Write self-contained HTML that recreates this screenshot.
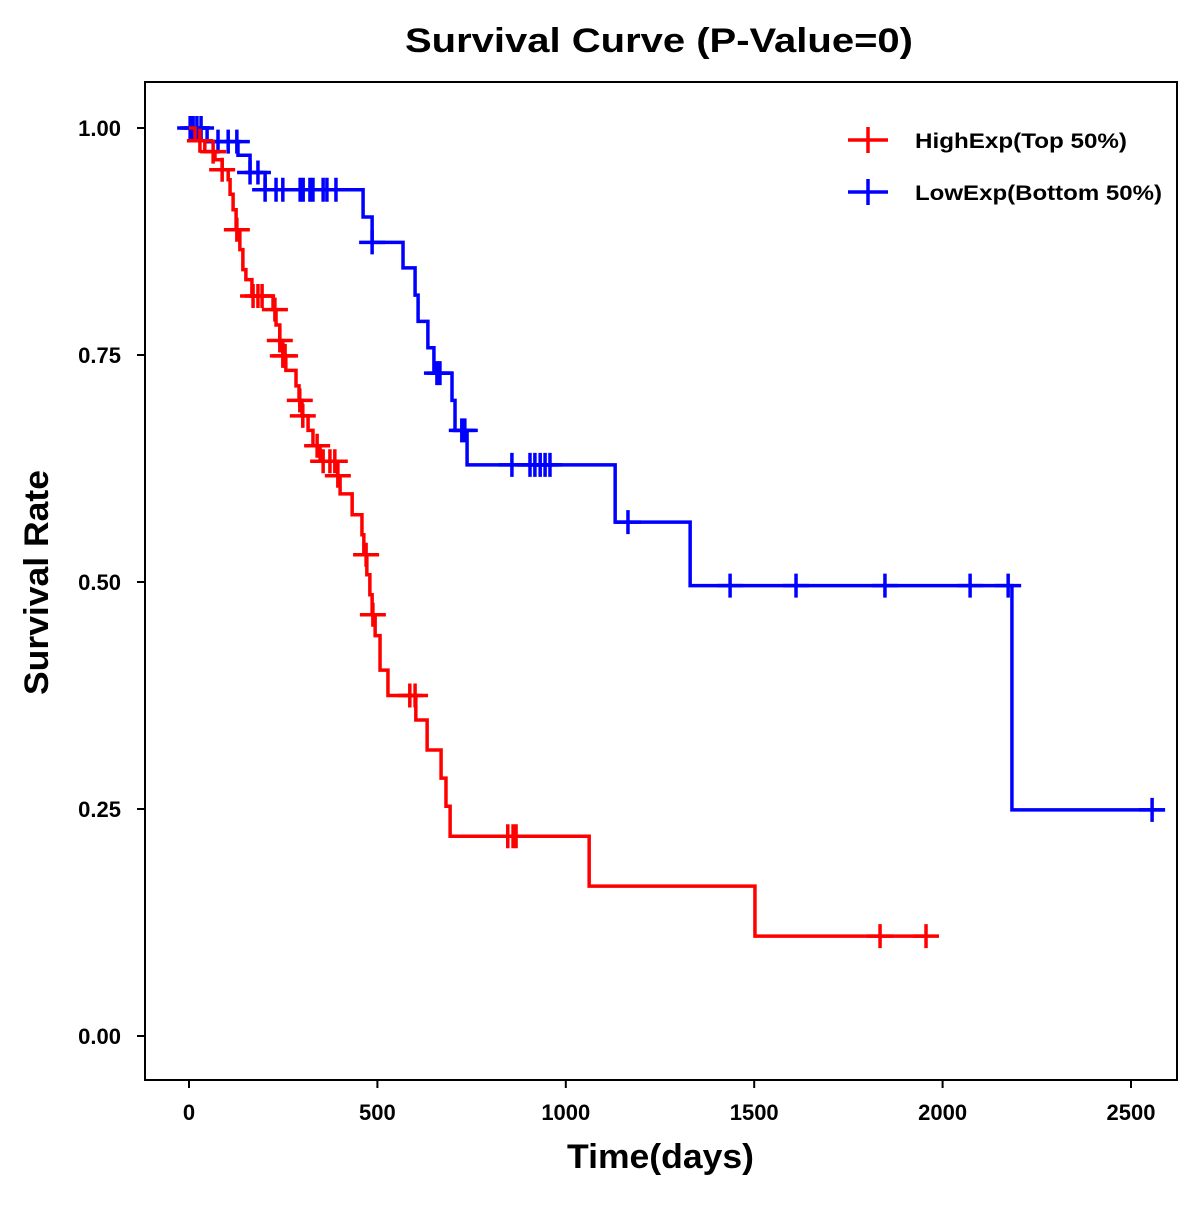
<!DOCTYPE html>
<html><head><meta charset="utf-8"><style>
body{margin:0;background:#fff}
svg{font-family:"Liberation Sans",Arial,sans-serif;font-weight:bold}
</style></head><body>
<svg id="chart" width="1200" height="1200" xmlns="http://www.w3.org/2000/svg">
<rect x="0" y="0" width="1200" height="1200" fill="#fff"/>
<text x="405" y="52" font-size="34" textLength="508" lengthAdjust="spacingAndGlyphs">Survival Curve (P-Value=0)</text>
<rect x="145" y="82" width="1032" height="998" fill="none" stroke="#000" stroke-width="2"/>
<g id="xaxis"></g>
<g id="yaxis"></g>
<text x="567" y="1168" font-size="34" textLength="187" lengthAdjust="spacingAndGlyphs">Time(days)</text>
<text transform="translate(48,695) rotate(-90)" font-size="34" textLength="225" lengthAdjust="spacingAndGlyphs">Survival Rate</text>
<g id="series"></g>
<g>
<g>
<line x1="848" y1="140" x2="888" y2="140" stroke="#f00" stroke-width="3.5"/><line x1="868" y1="127" x2="868" y2="153" stroke="#f00" stroke-width="3.5"/>
<text x="915" y="148" font-size="21" textLength="212" lengthAdjust="spacingAndGlyphs">HighExp(Top 50%)</text></g>
<g>
<line x1="848" y1="192" x2="888" y2="192" stroke="#00f" stroke-width="3.5"/><line x1="868" y1="179" x2="868" y2="205" stroke="#00f" stroke-width="3.5"/>
<text x="915" y="200" font-size="21" textLength="247" lengthAdjust="spacingAndGlyphs">LowExp(Bottom 50%)</text></g>
</g>
</svg>
<script>
const xTicks=[0,500,1000,1500,2000,2500];
const yTicks=[0,0.25,0.5,0.75,1.0];
const yTickLabels=["0.00","0.25","0.50","0.75","1.00"];
const highTimes=[0,16,42,69,88,104,109,117,125,135,143,151,167,223,231,241,249,257,284,292,300,316,329,348,395,401,433,459,464,472,480,486,494,507,528,602,632,669,682,693,1062,1502];
const highSurv=[1.0,0.986,0.974,0.965,0.954,0.943,0.927,0.910,0.888,0.866,0.844,0.833,0.815,0.800,0.783,0.766,0.749,0.733,0.716,0.700,0.683,0.667,0.650,0.633,0.617,0.597,0.574,0.552,0.530,0.508,0.486,0.464,0.441,0.403,0.375,0.348,0.315,0.284,0.253,0.220,0.165,0.110];
const highEnd=1956;
const highCensor=[29,64,88,127,170,183,194,228,241,249,255,294,302,340,356,374,387,395,470,488,586,600,846,860,868,1834,1956];
const lowTimes=[0,48,130,162,202,462,486,568,600,608,634,650,698,706,738,1131,1330,2184];
const lowSurv=[1.0,0.985,0.970,0.951,0.932,0.902,0.874,0.846,0.816,0.787,0.758,0.730,0.700,0.667,0.629,0.566,0.496,0.249];
const lowEnd=2590;
const lowCensor=[3,11,21,32,77,104,127,162,183,202,231,249,295,303,321,329,356,366,390,486,658,666,724,732,857,905,918,932,945,958,1165,1436,1611,1847,2073,2174,2556];
const NS="http://www.w3.org/2000/svg";
const X=t=>189+t*0.3768;
const Y=s=>1036-s*908;
function mk(tag,attrs,parent){const e=document.createElementNS(NS,tag);for(const k in attrs)e.setAttribute(k,attrs[k]);parent.appendChild(e);return e;}
const xa=document.getElementById('xaxis'),ya=document.getElementById('yaxis');
xTicks.forEach(v=>{const g=mk('g',{},xa);


mk('line',{x1:X(v),y1:1080,x2:X(v),y2:1088,stroke:'#000','stroke-width':2},g);
const t=mk('text',{x:X(v),y:1120,'font-size':22,'text-anchor':'middle'},g);t.textContent=v;});
yTicks.forEach((v,i)=>{const g=mk('g',{},ya);


mk('line',{x1:137,y1:Y(v),x2:145,y2:Y(v),stroke:'#000','stroke-width':2},g);
const t=mk('text',{x:121,y:Y(v)+8,'font-size':22,'text-anchor':'end'},g);t.textContent=yTickLabels[i];});
function survAt(times,surv,t){let s=surv[0];for(let i=0;i<times.length;i++){if(times[i]<=t)s=surv[i];}return s;}
function draw(times,surv,end,cens,color,name){
const g=mk('g',{},document.getElementById('series'));


let d='M'+X(times[0])+','+Y(surv[0]);
for(let i=1;i<times.length;i++){d+=' H'+X(times[i])+' V'+Y(surv[i]);}
d+=' H'+X(end);
const p=mk('path',{d:d,fill:'none',stroke:color,'stroke-width':3.5},g);


cens.forEach(t=>{const s=survAt(times,surv,t);const cx=X(t),cy=Y(s);
const c=mk('path',{d:`M${cx-13},${cy} H${cx+13} M${cx},${cy-12} V${cy+12}`,stroke:color,'stroke-width':3.5,fill:'none'},g);

});
}
draw(lowTimes,lowSurv,lowEnd,lowCensor,'#00f','low-exp-series');
draw(highTimes,highSurv,highEnd,highCensor,'#f00','high-exp-series');
</script>
</body></html>
